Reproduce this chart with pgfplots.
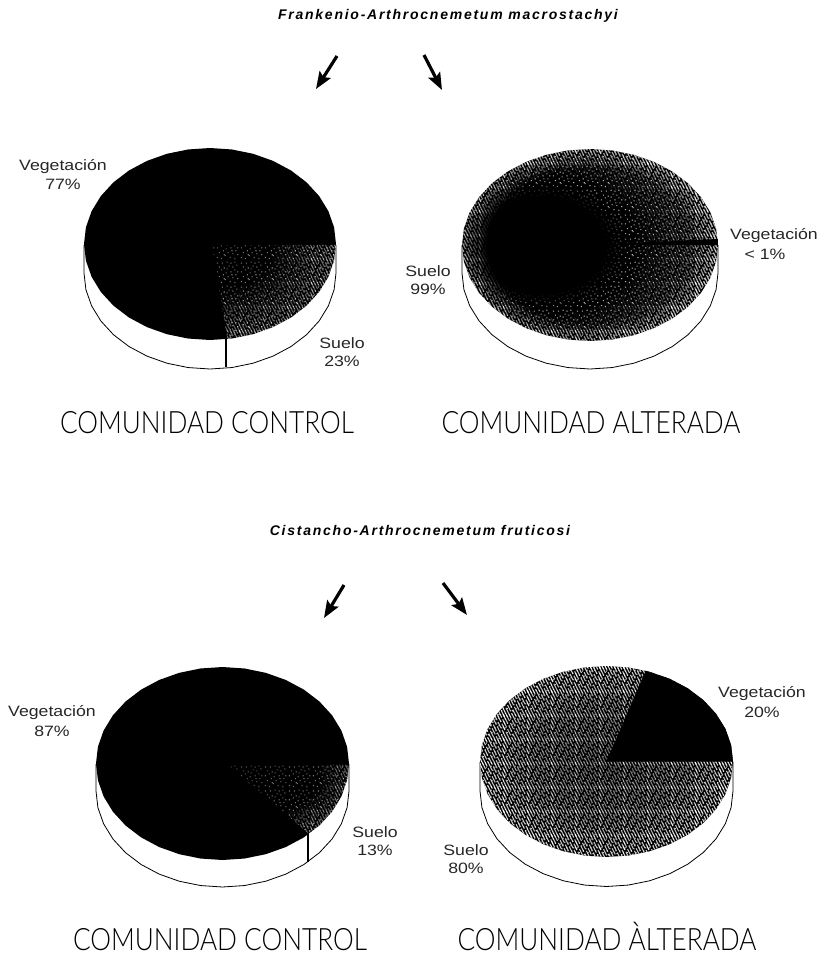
\documentclass[border=0pt]{standalone}
\usepackage{pgfplots}
\usepackage{pgfplotstable}
\usepackage{fontspec}
\setmainfont{Liberation Sans}
\newfontfamily\thinf{Lato Light}
\pgfplotsset{compat=1.18}
\usetikzlibrary{arrows.meta,patterns,fadings}
\pgfplotstableread{
c s
1 0
.9848 .1736
.9397 .3420
.8660 .5
.7660 .6428
.6428 .7660
.5 .8660
.3420 .9397
.1736 .9848
0 1
-.1736 .9848
-.3420 .9397
-.5 .8660
-.6428 .7660
-.7660 .6428
-.8660 .5
-.9397 .3420
-.9848 .1736
-1 0
-.9848 -.1736
-.9397 -.3420
-.8660 -.5
-.7660 -.6428
-.6428 -.7660
-.5 -.8660
-.3420 -.9397
-.1736 -.9848
0 -1
.1736 -.9848
.3420 -.9397
.5 -.8660
.6428 -.7660
.7660 -.6428
.8660 -.5
.9397 -.3420
.9848 -.1736
}\circleT
\pgfplotstableread{
c s d
1 0 0
1 0 1
.9848 .1736 1
.9397 .3420 1
.8660 .5 1
.7660 .6428 1
.6428 .7660 1
.5 .8660 1
.3420 .9397 1
.1736 .9848 1
0 1 1
-.1736 .9848 1
-.3420 .9397 1
-.5 .8660 1
-.6428 .7660 1
-.7660 .6428 1
-.8660 .5 1
-.9397 .3420 1
-.9848 .1736 1
-1 0 1
-1 0 0
}\sideT
\pgfplotstableread{
c s
0 0
1 0
.9848 .1736
.9397 .3420
.8660 .5
.7660 .6428
.6428 .7660
.5 .8660
.3420 .9397
.1253 .9921
}\wedgeA
\pgfplotstableread{
c s
0 0
1 0
.9848 .1736
.9397 .3420
.8660 .5
.7660 .6428
.6820 .7314
}\wedgeC
\pgfplotstableread{
c s
0 0
1 0
.9848 -.1736
.9397 -.3420
.8660 -.5
.7660 -.6428
.6428 -.7660
.5 -.8660
.3090 -.9511
}\wedgeD
\pgfplotstableread{
c s
0 0
1 0
.9980 -.0628
}\wedgeB
% halftone textures
\newcommand{\HL}[2]{\pgfsetdash{{6.94pt}{2pt}}{#2pt}\pgfpathmoveto{\pgfpoint{#1pt-1pt}{26pt}}\pgfpathlineto{\pgfpoint{#1pt+13pt}{-2pt}}\pgfusepath{stroke}}
\pgfdeclarepatternformonly{hatchN}{\pgfqpoint{-1pt}{-1pt}}{\pgfqpoint{25pt}{25pt}}{\pgfqpoint{24pt}{24pt}}{%
 \pgfsetlinewidth{1.1pt}%
 \HL{-12}{0}\HL{-9}{3}\HL{-6}{7}\HL{-3}{1}\HL{0}{5}\HL{3}{8}\HL{6}{2}\HL{9}{6}\HL{12}{4}\HL{15}{0}\HL{18}{7}\HL{21}{3}%
 \HL{24}{0}\HL{-15}{3}}
\newcommand{\D}[2]{\pgfpathrectangle{\pgfqpoint{#1pt}{#2pt}}{\pgfqpoint{1.1pt}{1.1pt}}}
\pgfdeclarepatternformonly{speckN}{\pgfpointorigin}{\pgfqpoint{24pt}{24pt}}{\pgfqpoint{24pt}{24pt}}{%
 \D{1}{2}\D{5}{1}\D{9}{4}\D{14}{2}\D{19}{1}\D{22}{5}\D{3}{7}\D{7}{9}\D{12}{7}\D{17}{6}\D{20}{9}\D{1}{12}\D{5}{14}\D{10}{11}\D{15}{12}\D{19}{14}\D{22}{12}\D{3}{17}\D{8}{16}\D{13}{18}\D{17}{17}\D{21}{19}\D{1}{21}\D{6}{21}\D{11}{22}\D{15}{21}\D{19}{22}\D{8}{5}\D{16}{9}\D{11}{15}%
 \pgfusepath{fill}}
% where the halftone is open (white) and where it closes to black
\pgfdeclareradialshading{fRing}{\pgfpointorigin}{color(0bp)=(pgftransparent!100);color(20bp)=(pgftransparent!100);color(25bp)=(pgftransparent!40);color(100bp)=(pgftransparent!0)}
\pgfdeclarefading{fadeRing}{\pgfuseshading{fRing}}
\pgfdeclareradialshading{fBh}{\pgfpoint{-11bp}{0bp}}{color(0bp)=(pgftransparent!100);color(18bp)=(pgftransparent!100);color(30bp)=(pgftransparent!65);color(42bp)=(pgftransparent!25);color(100bp)=(pgftransparent!15)}
\pgfdeclarefading{fadeBh}{\pgfuseshading{fBh}}
\pgfdeclareradialshading{fBs}{\pgfpoint{-11bp}{0bp}}{color(0bp)=(pgftransparent!100);color(12.5bp)=(pgftransparent!100);color(17bp)=(pgftransparent!30);color(100bp)=(pgftransparent!20)}
\pgfdeclarefading{fadeBs}{\pgfuseshading{fBs}}
\pgfdeclareradialshading{fAh}{\pgfpoint{-30bp}{30bp}}{color(0bp)=(pgftransparent!100);color(22bp)=(pgftransparent!100);color(45bp)=(pgftransparent!45);color(65bp)=(pgftransparent!0);color(100bp)=(pgftransparent!0)}
\pgfdeclarefading{fadeAh}{\pgfuseshading{fAh}}
\pgfdeclareradialshading{fAs}{\pgfpoint{-30bp}{30bp}}{color(0bp)=(pgftransparent!70);color(30bp)=(pgftransparent!40);color(65bp)=(pgftransparent!0);color(100bp)=(pgftransparent!0)}
\pgfdeclarefading{fadeAs}{\pgfuseshading{fAs}}
\pgfdeclareradialshading{fCh}{\pgfpoint{-25bp}{25bp}}{color(0bp)=(pgftransparent!100);color(30bp)=(pgftransparent!100);color(45bp)=(pgftransparent!45);color(55bp)=(pgftransparent!10);color(100bp)=(pgftransparent!0)}
\pgfdeclarefading{fadeCh}{\pgfuseshading{fCh}}
\pgfdeclareradialshading{fCs}{\pgfpoint{-25bp}{25bp}}{color(0bp)=(pgftransparent!70);color(35bp)=(pgftransparent!50);color(70bp)=(pgftransparent!0);color(100bp)=(pgftransparent!0)}
\pgfdeclarefading{fadeCs}{\pgfuseshading{fCs}}
\pgfdeclareradialshading{fDh}{\pgfpointorigin}{color(0bp)=(pgftransparent!60);color(15bp)=(pgftransparent!45);color(25bp)=(pgftransparent!15);color(100bp)=(pgftransparent!15)}
\pgfdeclarefading{fadeDh}{\pgfuseshading{fDh}}
\newcommand{\sm}[1]{{\color{black!85}\fontsize{15}{15}\selectfont\scalebox{1.18}[1]{#1}}}
\newcommand{\bg}[1]{{\thinf\fontsize{28}{28}\selectfont\scalebox{.935}[1.1]{#1}}}
\newcommand{\ttl}[1]{{\fontsize{14}{14}\selectfont\bfseries\itshape\addfontfeature{LetterSpace=12.5}#1}}
\tikzset{ht/.style={draw=none,pattern=hatchN,pattern color=white},sp/.style={draw=none,pattern=speckN,pattern color=white},
 ar/.style={black,line width=3.2pt,-{Stealth[length=17pt,width=13pt,inset=3pt]}}}
\begin{document}
\begin{tikzpicture}
\useasboundingbox (0,0) rectangle (821pt,956pt);
\begin{axis}[at={(0,0)},anchor=south west,scale only axis,width=821pt,height=956pt,
  xmin=0,xmax=821,ymin=0,ymax=956,y dir=reverse,hide axis,clip=false]
% --- pie 1
\addplot[draw=black,line width=.8pt,fill=white] table[x expr={210+126*\thisrow{c}},y expr={245+96*\thisrow{s}+28*\thisrow{d}}]{\sideT};
\addplot[draw=none,fill=black] table[x expr={210+126*\thisrow{c}},y expr={244+96*\thisrow{s}}]{\circleT} --cycle;
\addplot[ht,path fading=fadeAh] table[x expr={212+124*\thisrow{c}},y expr={245+95*\thisrow{s}}]{\wedgeA} --cycle;
\addplot[sp,path fading=fadeAs] table[x expr={212+124*\thisrow{c}},y expr={245+95*\thisrow{s}}]{\wedgeA} --cycle;
\addplot[black,line width=1.1pt] coordinates {(226,339) (226,367)};
% --- pie 2
\addplot[draw=black,line width=.8pt,fill=white] table[x expr={590+128*\thisrow{c}},y expr={245+96*\thisrow{s}+28*\thisrow{d}}]{\sideT};
\addplot[draw=none,fill=black] table[x expr={590+128*\thisrow{c}},y expr={245+96*\thisrow{s}}]{\circleT} --cycle;
\addplot[ht,path fading=fadeBh] table[x expr={590+128*\thisrow{c}},y expr={245+96*\thisrow{s}}]{\circleT} --cycle;
\addplot[sp,path fading=fadeBs] table[x expr={590+128*\thisrow{c}},y expr={245+96*\thisrow{s}}]{\circleT} --cycle;
\addplot[ht,path fading=fadeRing] table[x expr={590+128*\thisrow{c}},y expr={245+96*\thisrow{s}}]{\circleT} --cycle;
\addplot[draw=none,fill=black] table[x expr={590+128*\thisrow{c}},y expr={245+96*\thisrow{s}}]{\wedgeB} --cycle;
% --- pie 3
\addplot[draw=black,line width=.8pt,fill=white] table[x expr={222.5+126.5*\thisrow{c}},y expr={764+96*\thisrow{s}+27*\thisrow{d}}]{\sideT};
\addplot[draw=none,fill=black] table[x expr={222.5+126.5*\thisrow{c}},y expr={763.5+96.5*\thisrow{s}}]{\circleT} --cycle;
\addplot[ht,path fading=fadeCh] table[x expr={228+121*\thisrow{c}},y expr={765+96*\thisrow{s}}]{\wedgeC} --cycle;
\addplot[sp,path fading=fadeCs] table[x expr={228+121*\thisrow{c}},y expr={765+96*\thisrow{s}}]{\wedgeC} --cycle;
\addplot[black,line width=1.1pt] coordinates {(308,834) (308,862)};
% --- pie 4
\addplot[draw=black,line width=.8pt,fill=white] table[x expr={606.5+126.5*\thisrow{c}},y expr={762+95.5*\thisrow{s}+29*\thisrow{d}}]{\sideT};
\addplot[draw=none,fill=black] table[x expr={606.5+126.5*\thisrow{c}},y expr={761.5+95.5*\thisrow{s}}]{\circleT} --cycle;
\addplot[ht,path fading=fadeDh] table[x expr={606.5+126.5*\thisrow{c}},y expr={761.5+95.5*\thisrow{s}}]{\circleT} --cycle;
\addplot[sp,path fading=fadeDh] table[x expr={606.5+126.5*\thisrow{c}},y expr={761.5+95.5*\thisrow{s}}]{\circleT} --cycle;
\addplot[draw=none,fill=black] table[x expr={606.5+126.5*\thisrow{c}},y expr={761.5+95.5*\thisrow{s}}]{\wedgeD} --cycle;
% --- arrows
\addplot[ar] coordinates {(337,56) (316,89)};
\addplot[ar] coordinates {(424,55) (442,90)};
\addplot[ar] coordinates {(344,585) (324,618)};
\addplot[ar] coordinates {(443,583) (467,615)};
% --- texts
\node at (axis cs:448,16) {\ttl{Frankenio-Arthrocnemetum macrostachyi}};
\node at (axis cs:420,530) {\ttl{Cistancho-Arthrocnemetum fruticosi}};
\node at (axis cs:63,167) {\sm{Vegetación}};
\node at (axis cs:63,184) {\sm{77\%}};
\node at (axis cs:342,343) {\sm{Suelo}};
\node at (axis cs:342,361) {\sm{23\%}};
\node at (axis cs:774,236) {\sm{Vegetación}};
\node at (axis cs:765,254) {\sm{< 1\%}};
\node at (axis cs:428,271) {\sm{Suelo}};
\node at (axis cs:428,289) {\sm{99\%}};
\node at (axis cs:52,713) {\sm{Vegetación}};
\node at (axis cs:52,731) {\sm{87\%}};
\node at (axis cs:375,832) {\sm{Suelo}};
\node at (axis cs:375,850) {\sm{13\%}};
\node at (axis cs:762,694) {\sm{Vegetación}};
\node at (axis cs:762,712) {\sm{20\%}};
\node at (axis cs:466,850) {\sm{Suelo}};
\node at (axis cs:466,868) {\sm{80\%}};
\node[anchor=base] at (axis cs:207,433) {\bg{COMUNIDAD CONTROL}};
\node[anchor=base] at (axis cs:591,433) {\bg{COMUNIDAD ALTERADA}};
\node[anchor=base] at (axis cs:220,950) {\bg{COMUNIDAD CONTROL}};
\node[anchor=base] at (axis cs:607,950) {\bg{COMUNIDAD ÀLTERADA}};
\end{axis}
\end{tikzpicture}
\end{document}
